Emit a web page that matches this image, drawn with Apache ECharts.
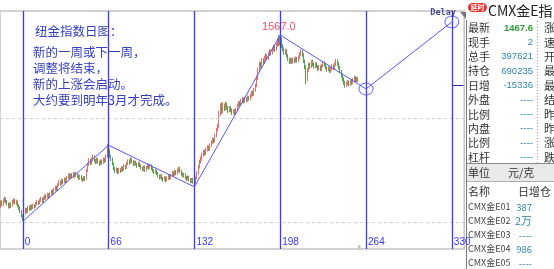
<!DOCTYPE html>
<html><head><meta charset="utf-8">
<script src="https://cdn.jsdelivr.net/npm/echarts@6/dist/echarts.min.js"></script>
<style>html,body{margin:0;padding:0;background:#fff;}#c{width:554px;height:269px;}</style>
</head><body><div id="c"></div>
<script>
// ---- data ----
const firstBar = -17, lastBar = 339;
const tickLabels = [0, 66, 132, 198, 264, 330];
// [open, close, low, high] for bars -17 .. 258
const candles = [
[1190,1198,1186,1203],[1198,1193,1189,1202],[1193,1201,1190,1206],[1201,1206,1197,1210],[1206,1200,1196,1209],
[1200,1195,1191,1203],[1195,1188,1184,1198],[1188,1194,1185,1197],[1194,1190,1186,1198],[1190,1199,1188,1203],
[1199,1204,1195,1207],[1204,1197,1193,1206],[1197,1200,1192,1204],[1200,1191,1187,1202],[1191,1186,1181,1194],
[1186,1178,1174,1189],[1178,1170,1165,1181],
[1170,1163,1157,1172],[1163,1175,1161,1178],[1175,1182,1171,1186],[1182,1178,1174,1186],[1178,1186,1175,1190],
[1186,1183,1179,1191],[1183,1189,1180,1193],[1189,1185,1181,1193],[1185,1191,1183,1195],[1191,1188,1184,1194],
[1188,1195,1186,1199],[1195,1199,1191,1203],[1199,1195,1192,1202],[1195,1202,1193,1206],[1202,1206,1199,1210],
[1206,1200,1196,1209],[1200,1207,1198,1211],[1207,1212,1203,1216],[1212,1208,1204,1215],[1208,1215,1206,1219],
[1215,1211,1207,1218],[1211,1216,1208,1220],[1216,1222,1213,1226],[1222,1218,1214,1226],[1218,1226,1216,1230],
[1226,1231,1222,1235],[1231,1227,1223,1234],[1227,1236,1225,1240],[1236,1243,1233,1247],[1243,1239,1234,1246],
[1239,1246,1236,1250],[1246,1242,1238,1249],[1242,1249,1240,1253],[1249,1245,1241,1252],[1245,1252,1243,1256],
[1252,1258,1249,1262],[1258,1253,1249,1261],[1253,1259,1250,1263],[1259,1255,1251,1262],[1255,1261,1252,1265],
[1261,1257,1253,1264],[1257,1262,1254,1266],[1262,1256,1252,1265],[1256,1251,1247,1259],[1251,1256,1248,1259],
[1256,1250,1246,1258],[1250,1247,1243,1253],[1247,1253,1245,1256],[1253,1249,1245,1256],[1249,1268,1248,1272],
[1268,1281,1265,1285],[1281,1290,1278,1295],[1290,1284,1280,1294],[1284,1292,1281,1297],[1292,1298,1288,1303],
[1298,1291,1287,1301],[1291,1286,1282,1294],[1286,1293,1283,1297],[1293,1287,1283,1296],[1287,1282,1278,1290],
[1282,1289,1280,1293],[1289,1285,1281,1292],[1285,1293,1283,1297],[1293,1289,1285,1296],[1289,1299,1287,1303],
[1299,1318,1296,1327],[1318,1312,1305,1324],[1312,1300,1296,1315],[1300,1294,1289,1303],[1294,1283,1279,1297],
[1283,1272,1268,1286],[1272,1266,1262,1276],[1266,1271,1263,1275],[1271,1264,1260,1274],[1264,1270,1261,1274],
[1270,1267,1263,1273],[1267,1274,1265,1278],[1274,1270,1266,1277],[1270,1278,1268,1282],[1278,1274,1270,1281],
[1274,1283,1272,1287],[1283,1289,1280,1293],[1289,1285,1281,1293],[1285,1293,1283,1298],[1293,1288,1284,1296],
[1288,1282,1278,1291],[1282,1287,1279,1290],[1287,1283,1279,1290],[1283,1278,1274,1286],[1278,1284,1276,1288],
[1284,1279,1275,1287],[1279,1274,1270,1282],[1274,1270,1266,1277],[1270,1276,1267,1279],[1276,1269,1265,1279],
[1269,1274,1266,1278],[1274,1280,1272,1284],[1280,1274,1270,1283],[1274,1279,1272,1283],[1279,1273,1269,1282],
[1273,1268,1264,1276],[1268,1264,1260,1271],[1264,1268,1261,1272],[1268,1262,1258,1270],[1262,1256,1252,1265],
[1256,1252,1248,1259],[1252,1257,1250,1260],[1257,1251,1247,1260],[1251,1247,1243,1254],[1247,1252,1245,1256],
[1252,1246,1242,1255],[1246,1251,1244,1255],[1251,1256,1248,1260],[1256,1251,1247,1259],[1251,1257,1249,1261],
[1257,1263,1254,1267],[1263,1259,1255,1266],[1259,1266,1256,1270],[1266,1262,1258,1269],[1262,1268,1259,1272],
[1268,1273,1264,1277],[1273,1267,1263,1276],[1267,1261,1257,1270],[1261,1256,1252,1264],[1256,1260,1253,1263],
[1260,1253,1249,1262],[1253,1249,1245,1256],[1249,1254,1246,1257],[1254,1248,1244,1257],[1248,1244,1240,1251],
[1244,1249,1241,1252],[1249,1243,1239,1252],[1243,1240,1234,1247],[1240,1252,1238,1255],[1252,1262,1249,1266],
[1262,1276,1259,1280],[1276,1288,1273,1292],[1288,1294,1284,1299],[1294,1303,1290,1307],[1303,1310,1299,1314],
[1310,1305,1301,1313],[1305,1314,1302,1318],[1314,1320,1310,1324],[1320,1315,1311,1323],[1315,1324,1312,1328],
[1324,1331,1320,1335],[1331,1337,1327,1341],[1337,1332,1328,1340],[1332,1345,1330,1349],[1345,1358,1342,1362],
[1358,1365,1354,1370],[1365,1392,1362,1400],[1392,1406,1388,1416],[1406,1398,1392,1418],[1398,1410,1395,1419],
[1410,1404,1399,1416],[1404,1414,1401,1420],[1414,1407,1402,1418],[1407,1400,1395,1411],[1400,1406,1397,1410],
[1406,1401,1396,1410],[1401,1396,1391,1405],[1396,1400,1392,1404],[1400,1395,1390,1403],[1395,1402,1392,1406],
[1402,1412,1399,1416],[1412,1418,1408,1422],[1418,1414,1410,1421],[1414,1421,1411,1426],[1421,1426,1417,1431],
[1426,1420,1416,1429],[1420,1427,1417,1431],[1427,1423,1419,1430],[1423,1430,1420,1434],[1430,1426,1422,1433],
[1426,1432,1423,1437],[1432,1440,1429,1444],[1440,1436,1432,1444],[1436,1446,1433,1450],[1446,1455,1442,1460],
[1455,1472,1452,1477],[1472,1490,1468,1495],[1490,1503,1486,1508],[1503,1498,1493,1508],[1498,1512,1495,1516],
[1512,1506,1501,1516],[1506,1517,1503,1521],[1517,1522,1512,1527],[1522,1515,1511,1525],[1515,1525,1512,1529],
[1525,1532,1521,1536],[1532,1527,1522,1535],[1527,1536,1524,1540],[1536,1541,1531,1546],[1541,1535,1530,1544],
[1535,1545,1532,1550],[1545,1555,1541,1560],[1555,1548,1543,1567],[1548,1557,1544,1563],[1557,1543,1538,1561],
[1543,1536,1531,1547],[1536,1528,1523,1540],[1528,1533,1524,1537],[1533,1522,1518,1536],[1522,1514,1509,1525],
[1514,1508,1503,1517],[1508,1513,1504,1517],[1513,1507,1503,1516],[1507,1514,1504,1518],[1514,1509,1505,1517],
[1509,1516,1506,1520],[1516,1510,1506,1519],[1510,1518,1507,1522],[1518,1525,1514,1529],[1525,1531,1521,1536],
[1531,1524,1519,1534],[1524,1510,1505,1527],[1510,1497,1492,1513],[1497,1468,1459,1500],[1468,1490,1465,1494],
[1490,1502,1486,1506],[1502,1497,1492,1506],[1497,1508,1494,1512],[1508,1503,1498,1512],[1503,1497,1493,1506],
[1497,1504,1494,1508],[1504,1498,1494,1507],[1498,1492,1488,1501],[1492,1497,1489,1501],[1497,1491,1487,1500],
[1491,1499,1488,1503],[1499,1506,1495,1510],[1506,1501,1497,1509],[1501,1495,1491,1504],[1495,1490,1486,1498],
[1490,1494,1487,1498],[1494,1487,1483,1497],[1487,1492,1484,1496],[1492,1499,1489,1503],[1499,1494,1490,1502],
[1494,1503,1491,1507],[1503,1510,1499,1514],[1510,1504,1499,1513],[1504,1496,1491,1507],[1496,1487,1482,1499],
[1487,1478,1473,1490],[1478,1470,1465,1481],[1470,1462,1457,1474],[1462,1456,1451,1466],[1456,1460,1452,1464],
[1460,1464,1456,1468],[1464,1458,1454,1467],[1458,1466,1455,1470],[1466,1461,1457,1469],[1461,1468,1458,1472],
[1468,1473,1464,1477],[1473,1466,1462,1476],[1466,1471,1463,1475],[1471,1467.6,1463,1474]
];
const trendBars   = [0, 66, 132, 198, 264, 330];
const trendPrices = [1156, 1324, 1232, 1567, 1448, 1596];
const circleBars   = [264, 330];
const circlePrices = [1448, 1596];
const peakBar = 197, peakPrice = 1567, peakText = '1567.0';
const guideLevels = [1384, 1155];
const markerLevel = 1457;
const noteTitle = '纽金指数日图：';
const noteLines = ['新的一周或下一周，', '调整将结束，', '新的上涨会启动。', '大约要到明年3月才完成。'];
const panelTitle = 'CMX金E指';
const panelLabels = ['最新','现手','总手','持仓','日增','外盘','比例','内盘','比例','杠杆'];
const panelValues = ['1467.6','2','397621','690235','-15336','----','----','----','----','----'];
const panelCol3   = ['涨','速','开','最','最','结','昨','昨','涨','跌'];
const contractNames = ['CMX金E01','CMX金E02','CMX金E03','CMX金E04','CMX金E05'];
const contractVals  = ['387','2万','----','986','----'];

// ---- chart ----
const cats = [];
for (let i = firstBar; i <= lastBar; i++) cats.push(String(i));
const CJK = '"Noto Sans CJK SC"';
const BLUE = '#3a3aff';

const graphic = [];
graphic.push({type:'text', x:35, y:31.5, style:{text:noteTitle, fill:'#3440c0', font:'12.5px '+CJK, align:'left', verticalAlign:'middle'}});
noteLines.forEach((t,k)=>graphic.push({type:'text', x:33, y:52+k*16.2, style:{text:t, fill:'#3440c0', font:'12.5px '+CJK, align:'left', verticalAlign:'middle'}}));
// panel
graphic.push({type:'line', shape:{x1:466.5,y1:20,x2:466.5,y2:269}, style:{stroke:'#7a7a7a', lineWidth:1}});
graphic.push({type:'polygon', shape:{points:[[460,12],[466,12],[466,19]]}, style:{fill:'#777'}});
graphic.push({type:'rect', shape:{x:468,y:3,width:19,height:9,r:4.5}, style:{fill:'#e5322d'}});
graphic.push({type:'text', x:477.5, y:7.7, style:{text:'延时', fill:'#fff', font:'bold 7px '+CJK, align:'center', verticalAlign:'middle'}});
graphic.push({type:'text', x:488, y:10.5, style:{text:panelTitle, fill:'#222', font:'14px '+CJK, align:'left', verticalAlign:'middle'}});
graphic.push({type:'line', shape:{x1:537.5,y1:21,x2:537.5,y2:163}, style:{stroke:'#999', lineWidth:1, lineDash:[1,2]}});
panelLabels.forEach((t,k)=>{
  const y = 28 + k*14.4;
  graphic.push({type:'text', x:468, y:y, style:{text:t, fill:'#333', font:'11px '+CJK, align:'left', verticalAlign:'middle'}});
  graphic.push({type:'text', x:533, y:y, style:{text:panelValues[k], fill: k===0?'#2e9a35':'#2f87a6', font:(k===0?'bold ':'')+'9.5px "Liberation Sans"', align:'right', verticalAlign:'middle'}});
  graphic.push({type:'text', x:544, y:y, style:{text:panelCol3[k], fill:'#333', font:'11px '+CJK, align:'left', verticalAlign:'middle'}});
});
graphic.push({type:'rect', shape:{x:467,y:164,width:87,height:17}, style:{fill:'#e9e9e9'}});
graphic.push({type:'line', shape:{x1:467,y1:163.5,x2:554,y2:163.5}, style:{stroke:'#8a8a8a', lineWidth:1}});
graphic.push({type:'line', shape:{x1:467,y1:181.5,x2:554,y2:181.5}, style:{stroke:'#b0b0b0', lineWidth:1}});
graphic.push({type:'text', x:468, y:172.5, style:{text:'单位', fill:'#333', font:'11px '+CJK, align:'left', verticalAlign:'middle'}});
graphic.push({type:'text', x:508, y:172.5, style:{text:'元/克', fill:'#333', font:'11px '+CJK, align:'left', verticalAlign:'middle'}});
graphic.push({type:'text', x:468, y:192, style:{text:'名称', fill:'#333', font:'11px '+CJK, align:'left', verticalAlign:'middle'}});
graphic.push({type:'text', x:518, y:192, style:{text:'日增仓', fill:'#333', font:'11px '+CJK, align:'left', verticalAlign:'middle'}});
contractNames.forEach((t,k)=>{
  const y = 207 + k*14;
  graphic.push({type:'text', x:468, y:y, style:{text:t, fill:'#444', font:'9px '+CJK, align:'left', verticalAlign:'middle'}});
  graphic.push({type:'text', x:532, y:y, style:{text:contractVals[k], fill:'#2f87a6', font:(contractVals[k].indexOf('万')>=0?'11px ':'9.5px ')+CJK, align:'right', verticalAlign:'middle'}});
});
graphic.push({type:'rect', shape:{x:358,y:245,width:2.5,height:5}, style:{fill:'#c8c8c8'}});

const vLines = tickLabels.map(v=>({xAxis:String(v)}));
const hLines = guideLevels.map(v=>({yAxis:v, lineStyle:{color:'#cfcfcf', type:[3,3], width:1}}));
const marker = [{coord:[String(331), markerLevel]},{coord:[String(339), markerLevel]}];

const option = {
  animation:false,
  backgroundColor:'#fff',
  grid:{left:-1, top:11, width:465.2, height:238, show:true, borderColor:'#c4c4c4', borderWidth:1.5},
  xAxis:{type:'category', data:cats, boundaryGap:true,
    axisLine:{show:false}, axisTick:{show:false}, splitLine:{show:false},
    axisLabel:{inside:true, margin:2, align:'left', color:'#3535ff', fontSize:10, fontFamily:'Liberation Sans',
      interval:(idx,val)=>tickLabels.indexOf(+val)>=0, padding:[0,0,0,2]}},
  yAxis:{type:'value', min:1095, max:1620, show:false, splitLine:{show:false}},
  series:[
    {type:'line', data:[], silent:true,
     markLine:{silent:true, symbol:['none','none'], label:{show:false},
       data: hLines.concat(vLines.map(d=>Object.assign({lineStyle:{color:BLUE,width:1.3,type:'solid'}}, d))).concat([marker.map(m=>Object.assign({lineStyle:{color:'#2a2aa0',width:1,type:'solid'}},m))])}},
    {type:'candlestick', data:candles, barWidth:1,
     itemStyle:{color:'#f26a6a', color0:'#52a452', borderColor:'#f26a6a', borderColor0:'#52a452', borderWidth:1}},
    {type:'line', data:trendBars.map((b,k)=>[String(b), trendPrices[k]]), symbol:'none',
     lineStyle:{color:'#5656ff', width:1}, z:5},
    {type:'scatter', data:circleBars.map((b,k)=>[String(b), circlePrices[k]]), symbol:'circle', symbolSize:[14,12], z:6,
     itemStyle:{color:'rgba(0,0,0,0)', borderColor:'#4a4aff', borderWidth:1},
     label:{show:true, formatter:(p)=>p.dataIndex===1?'Delay':'', position:[-14,-7], align:'left', verticalAlign:'top',
       color:'#23237a', fontFamily:'DejaVu Sans Mono', fontWeight:'bold', fontSize:8.5}},
    {type:'scatter', data:[[String(peakBar), peakPrice]], symbolSize:0, z:7,
     label:{show:true, formatter:peakText, position:'top', distance:3, color:'#f0283c', fontSize:11, fontFamily:'Liberation Sans'}}
  ],
  graphic: graphic
};
const chart = echarts.init(document.getElementById('c'), null, {renderer:'canvas'});
chart.setOption(option);
</script></body></html>
